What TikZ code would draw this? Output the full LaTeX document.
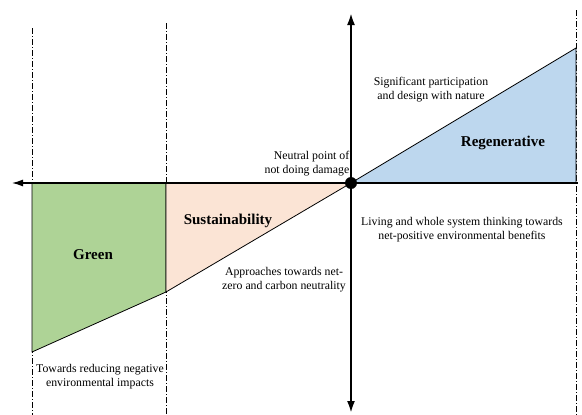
\documentclass[tikz,border=0pt]{standalone}
\usepackage{fontspec}
\setmainfont{Liberation Serif}
\usetikzlibrary{positioning,arrows.meta}

\definecolor{greenfill}{RGB}{174,211,150}
\definecolor{peachfill}{RGB}{251,228,213}
\definecolor{bluefill}{RGB}{189,215,238}

\begin{document}
\begin{tikzpicture}[
     x = 1pt, y = -1pt, % pixel-like units, y pointing down
     > = {Latex[length=11pt,width=7pt]}, % arrow head style
     semithick % line style
 ]
 \useasboundingbox (0,0) rectangle (582,415);

 \tikzstyle{zone} = [
     draw = black,
     line width = 0.8pt,
     line join = round
 ]
 \tikzstyle{guide} = [
     draw = black,
     line width = 0.6pt,
     dash pattern = on 6pt off 2pt on 1pt off 2pt
 ]
 \tikzstyle{note} = [
     align = center,
     inner sep = 0pt,
     font = \fontsize{11.8}{14}\selectfont
 ]
 \tikzstyle{stage} = [
     inner sep = 0pt,
     font = \fontsize{15}{18}\selectfont\bfseries
 ]

 % corner points of the three zones
 \coordinate (o) at (351,183);
 \coordinate (g1) at (32,183);
 \coordinate (g2) at (166,183);
 \coordinate (g3) at (166,292);
 \coordinate (g4) at (32,352);
 \coordinate (r1) at (576,183);
 \coordinate (r2) at (576,48);

 % axis ends
 \coordinate (west) at (12,183);
 \coordinate (east) at (578,183);
 \coordinate (north) at (351,13);
 \coordinate (south) at (351,413);

 % dash-dot guides
 \foreach \x/\top in {32/28, 166/23, 576/10}
     \draw[guide] (\x,\top) -- (\x,415);

 \filldraw[zone, fill = greenfill] (g1) -- (g2) -- (g3) -- (g4) -- cycle;
 \filldraw[zone, fill = peachfill] (g2) -- (o) -- (g3) -- cycle;
 \filldraw[zone, fill = bluefill] (o) -- (r1) -- (r2) -- cycle;

 \draw[<-, line width = 1.3pt] (west) -- (east);
 \draw[<->, line width = 2.2pt, > = {Latex[length=12pt,width=8pt]}] (south) -- (north);
 \node[circle, fill = black, minimum size = 12pt, inner sep = 0pt] (dot) at (o) {};

 \node[stage] (green) at (93,255) {Green};
 \node[stage] (sust) at (228,221) {Sustainability};
 \node[stage] (regen) at (503,143) {Regenerative};

 \node[note, align = right] (neutral) [above left = 2pt and -3pt of dot] {Neutral point of\\not doing damage};
 \node[note] (signif) at (431,90) {Significant participation\\and design with nature};
 \node[note] (living) at (462,230) {Living and whole system thinking towards\\net-positive environmental benefits};
 \node[note] (approach) at (284,280) {Approaches towards net-\\zero and carbon neutrality};
 \node[note] (towards) at (100,377) {Towards reducing negative\\environmental impacts};
\end{tikzpicture}
\end{document}
